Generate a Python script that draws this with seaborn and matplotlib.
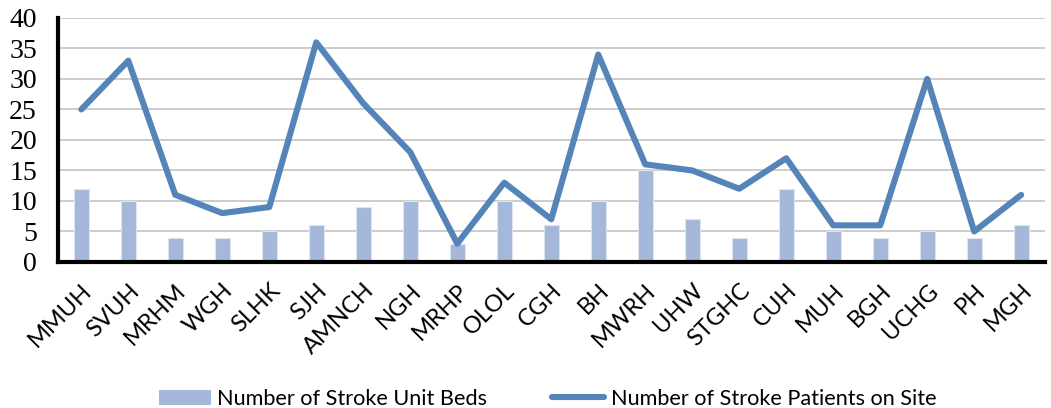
import pandas as pd
import seaborn as sb
import matplotlib.pyplot as plt
from matplotlib.lines import Line2D
from matplotlib.patches import Patch

# Hospital codes and values
hospitals = ['MMUH', 'SVUH', 'MRHM', 'WGH', 'SLHK', 'SJH', 'AMNCH', 'NGH', 'MRHP', 'OLOL', 'CGH',
             'BH', 'MWRH', 'UHW', 'STGHC', 'CUH', 'MUH', 'BGH', 'UCHG', 'PH', 'MGH']
stroke_beds = [12, 10, 4, 4, 5, 6, 9, 10, 3, 10, 6, 10, 15, 7, 4, 12, 5, 4, 5, 4, 6]
stroke_patients = [25, 33, 11, 8, 9, 36, 26, 18, 3, 13, 7, 34, 16, 15, 12, 17, 6, 6, 30, 5, 11]

bar_colour = '#A5B8D9'
line_colour = '#5585B8'

dataset = pd.DataFrame({'Hospital': hospitals, 'Beds': stroke_beds, 'Patients': stroke_patients})
dataset['pos'] = range(len(dataset))

sb.set_style('white')
plt.rcParams['text.color'] = 'black'
plt.rcParams['xtick.color'] = 'black'
plt.rcParams['ytick.color'] = 'black'

fig = plt.figure(figsize=(10.51, 4.08), dpi=100)
ax = fig.add_axes([0.055, 0.358, 0.939, 0.598])

sb.barplot(data=dataset, x='pos', y='Beds', color=bar_colour, width=0.32,
           saturation=1, ax=ax, native_scale=True, zorder=2,
           edgecolor='#DCE4F0', linewidth=0.8)
sb.lineplot(data=dataset, x='pos', y='Patients', color=line_colour, linewidth=4.4,
            ax=ax, zorder=3)

ax.set_xlim(-0.5, len(hospitals) - 0.5)
ax.set_ylim(0, 40)
ax.set_yticks(range(0, 41, 5))
ax.set_yticklabels([str(v) for v in range(0, 41, 5)], fontsize=20, family='Liberation Serif')
ax.tick_params(axis='y', length=0, pad=15)
ax.set_xticks(range(len(hospitals)))
ax.set_xticklabels(hospitals, rotation=45, ha='right', rotation_mode='anchor',
                   fontsize=17, family='Lato')
ax.tick_params(axis='x', length=0, pad=13)
ax.set_xlabel('')
ax.set_ylabel('')

ax.grid(axis='y', color='#C8C8C8', linewidth=1.3, zorder=0)
ax.set_axisbelow(True)
for side in ['top', 'right']:
    ax.spines[side].set_visible(False)
for side in ['left', 'bottom']:
    ax.spines[side].set_color('black')
    ax.spines[side].set_linewidth(3)

handles = [Patch(facecolor=bar_colour, edgecolor='none'),
           Line2D([0], [0], color=line_colour, linewidth=4.4)]
fig.legend(handles, ['Number of Stroke Unit Beds', 'Number of Stroke Patients on Site'],
           loc='lower center', bbox_to_anchor=(0.521, -0.05), ncol=2, frameon=False,
           handlelength=2.4, handleheight=0.7, handletextpad=0.3, columnspacing=3.0,
           prop={'family': 'Lato', 'size': 15.6})

plt.savefig('out.png', dpi=100)
